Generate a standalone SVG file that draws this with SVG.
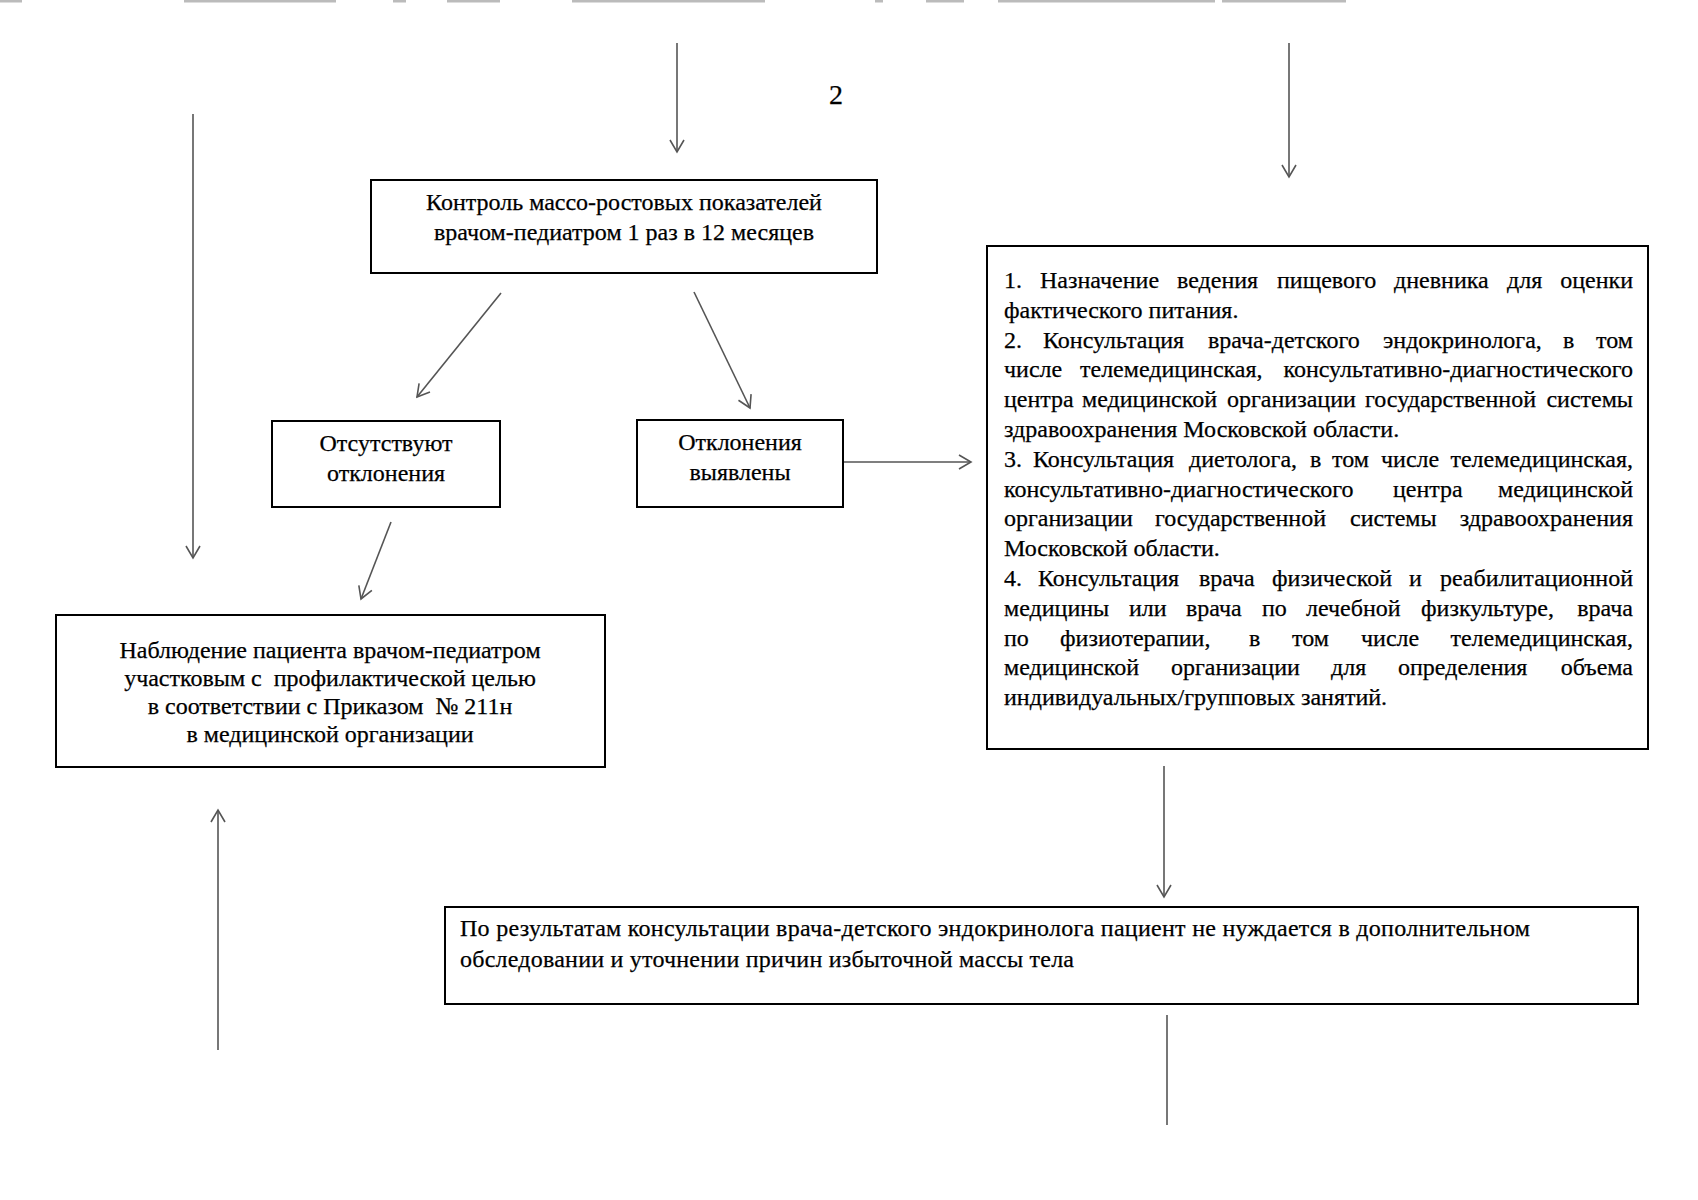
<svg xmlns="http://www.w3.org/2000/svg" width="1698" height="1200" viewBox="0 0 1698 1200">
<style>
.box{fill:#fff;stroke:#000;stroke-width:2}
.t{font-family:"Liberation Serif","Times New Roman",serif;font-size:24px;fill:#000;stroke:#000;stroke-width:0.25}
.c{text-anchor:middle}
.e{text-anchor:end}
.con{stroke:#555;stroke-width:1.6;fill:none}
.scan{stroke:#bbb;stroke-width:3;fill:none}
</style>
<defs>
<marker id="arr" markerUnits="userSpaceOnUse" markerWidth="30" markerHeight="30" viewBox="-15 -15 30 30" refX="0" refY="0" orient="auto" overflow="visible">
<path d="M-12,-7 L0,0 L-12,7" fill="none" stroke="#555" stroke-width="1.6"/>
</marker>
</defs>
<rect width="1698" height="1200" fill="#fff"/>
<g id="scan-marks">
<path class="scan" d="M0,1H22M184,1H336M393,1H406M447,1H500M572,1H765M875,1H883M926,1H964M998,1H1215M1222,1H1346"/>
</g>
<g id="page-number">
<text class="t c" x="836" y="104" style="font-size:28px">2</text>
</g>
<g id="connectors">
<line class="con" x1="677" y1="43" x2="677" y2="152" marker-end="url(#arr)"/>
<line class="con" x1="1289" y1="43" x2="1289" y2="177" marker-end="url(#arr)"/>
<line class="con" x1="193" y1="114" x2="193" y2="558" marker-end="url(#arr)"/>
<line class="con" x1="501" y1="293" x2="417" y2="397" marker-end="url(#arr)"/>
<line class="con" x1="694" y1="292" x2="750" y2="408" marker-end="url(#arr)"/>
<line class="con" x1="843" y1="462" x2="971" y2="462" marker-end="url(#arr)"/>
<line class="con" x1="391" y1="522" x2="361" y2="599" marker-end="url(#arr)"/>
<line class="con" x1="218" y1="1050" x2="218" y2="810" marker-end="url(#arr)"/>
<line class="con" x1="1164" y1="766" x2="1164" y2="897" marker-end="url(#arr)"/>
<line class="con" x1="1167" y1="1015" x2="1167" y2="1125"/>
</g>
<g id="node-control">
<rect class="box" x="371" y="180" width="506" height="93"/>
<text class="t c" x="624" y="210">Контроль массо-ростовых показателей</text>
<text class="t c" x="624" y="240">врачом-педиатром 1 раз в 12 месяцев</text>
</g>
<g id="node-absent">
<rect class="box" x="272" y="421" width="228" height="86"/>
<text class="t c" x="386" y="451">Отсутствуют</text>
<text class="t c" x="386" y="481">отклонения</text>
</g>
<g id="node-found">
<rect class="box" x="637" y="420" width="206" height="87"/>
<text class="t c" x="740" y="450">Отклонения</text>
<text class="t c" x="740" y="480">выявлены</text>
</g>
<g id="node-observe">
<rect class="box" x="56" y="615" width="549" height="152"/>
<text class="t c" x="330" y="658">Наблюдение пациента врачом-педиатром</text>
<text class="t c" x="330" y="686" style="white-space:pre">участковым с  профилактической целью</text>
<text class="t c" x="330" y="714" style="white-space:pre">в соответствии с Приказом  № 211н</text>
<text class="t c" x="330" y="742">в медицинской организации</text>
</g>
<g id="node-actions">
<rect class="box" x="987" y="246" width="661" height="503"/>
<text class="t" y="288"><tspan x="1004">1.</tspan><tspan x="1040">Назначение</tspan><tspan x="1177">ведения</tspan><tspan x="1277">пищевого</tspan><tspan x="1394">дневника</tspan><tspan x="1507">для</tspan></text>
<text class="t e" x="1633" y="288">оценки</text>
<text class="t" x="1004" y="318">фактического питания.</text>
<text class="t" y="348"><tspan x="1004">2.</tspan><tspan x="1043">Консультация</tspan><tspan x="1208">врача-детского</tspan><tspan x="1383">эндокринолога,</tspan><tspan x="1563">в</tspan></text>
<text class="t e" x="1633" y="348">том</text>
<text class="t" y="377"><tspan x="1004">числе</tspan><tspan x="1080">телемедицинская,</tspan></text>
<text class="t e" x="1633" y="377">консультативно-диагностического</text>
<text class="t" y="407"><tspan x="1004">центра</tspan><tspan x="1082">медицинской</tspan><tspan x="1227">организации</tspan><tspan x="1365">государственной</tspan></text>
<text class="t e" x="1633" y="407">системы</text>
<text class="t" x="1004" y="437">здравоохранения Московской области.</text>
<text class="t" y="467"><tspan x="1004">3.</tspan><tspan x="1033">Консультация</tspan><tspan x="1189">диетолога,</tspan><tspan x="1310">в</tspan><tspan x="1332">том</tspan><tspan x="1381">числе</tspan></text>
<text class="t e" x="1633" y="467">телемедицинская,</text>
<text class="t" y="497"><tspan x="1004">консультативно-диагностического</tspan><tspan x="1393">центра</tspan></text>
<text class="t e" x="1633" y="497">медицинской</text>
<text class="t" y="526"><tspan x="1004">организации</tspan><tspan x="1155">государственной</tspan><tspan x="1350">системы</tspan></text>
<text class="t e" x="1633" y="526">здравоохранения</text>
<text class="t" x="1004" y="556">Московской области.</text>
<text class="t" y="586"><tspan x="1004">4.</tspan><tspan x="1038">Консультация</tspan><tspan x="1199">врача</tspan><tspan x="1272">физической</tspan><tspan x="1409">и</tspan></text>
<text class="t e" x="1633" y="586">реабилитационной</text>
<text class="t" y="616"><tspan x="1004">медицины</tspan><tspan x="1129">или</tspan><tspan x="1186">врача</tspan><tspan x="1262">по</tspan><tspan x="1306">лечебной</tspan><tspan x="1421">физкультуре,</tspan></text>
<text class="t e" x="1633" y="616">врача</text>
<text class="t" y="646"><tspan x="1004">по</tspan><tspan x="1060">физиотерапии,</tspan><tspan x="1249">в</tspan><tspan x="1292">том</tspan><tspan x="1361">числе</tspan></text>
<text class="t e" x="1633" y="646">телемедицинская,</text>
<text class="t" y="675"><tspan x="1004">медицинской</tspan><tspan x="1171">организации</tspan><tspan x="1331">для</tspan><tspan x="1398">определения</tspan></text>
<text class="t e" x="1633" y="675">объема</text>
<text class="t" x="1004" y="705">индивидуальных/групповых занятий.</text>
</g>
<g id="node-result">
<rect class="box" x="445" y="907" width="1193" height="97"/>
<text class="t" x="460" y="936" textLength="1070" lengthAdjust="spacing">По результатам консультации врача-детского эндокринолога пациент не нуждается в дополнительном</text>
<text class="t" x="460" y="967" textLength="614" lengthAdjust="spacing">обследовании и уточнении причин избыточной массы тела</text>
</g>
</svg>
